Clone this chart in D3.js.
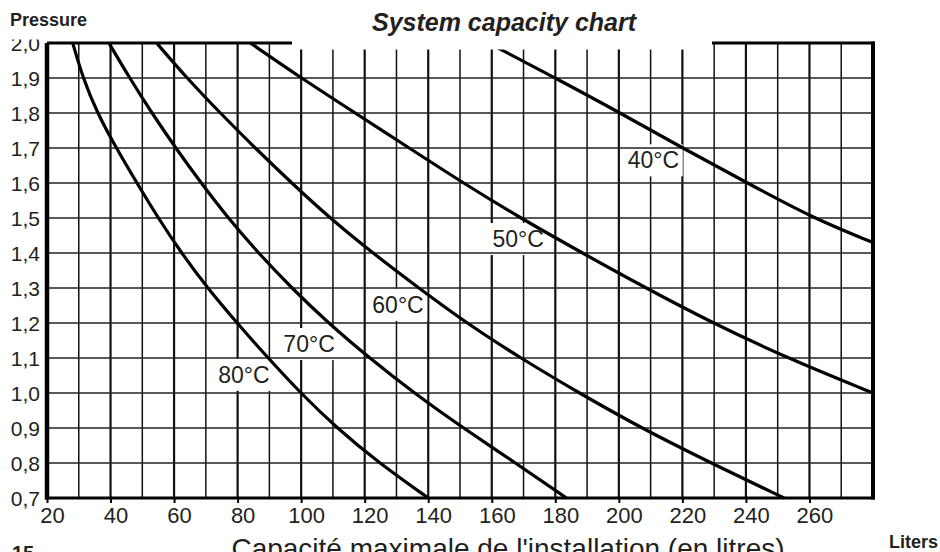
<!DOCTYPE html>
<html>
<head>
<meta charset="utf-8">
<script src="https://cdn.jsdelivr.net/npm/d3@7"></script>
<style>
  html, body { margin: 0; padding: 0; background: #fff; }
  svg { display: block; }
  text { font-family: "Liberation Sans", Arial, Helvetica, sans-serif; fill: #231f20; }
</style>
</head>
<body>
<svg id="chart" width="940" height="552"></svg>
<script>
// curve values: [litres, bar]
var curve40 = [[159, 2.0], [180, 1.9], [200.5, 1.8], [220, 1.7], [240.5, 1.6], [261, 1.5], [280, 1.43]];
var curve50 = [[84, 2.0], [100, 1.9], [117, 1.8], [134, 1.7], [151, 1.6], [169, 1.5], [188.5, 1.4], [208.5, 1.3], [229.5, 1.2], [253, 1.1], [280, 1.0]];
var curve60 = [[54.5, 2.0], [64, 1.9], [74.5, 1.8], [85.5, 1.7], [97, 1.6], [109, 1.5], [122.5, 1.4], [137, 1.3], [152, 1.2], [169, 1.1], [187.5, 1.0], [207, 0.9], [229, 0.8], [252, 0.7]];
var curve70 = [[39.5, 2.0], [46, 1.9], [53, 1.8], [60.5, 1.7], [68.5, 1.6], [77, 1.5], [86.5, 1.4], [97, 1.3], [108.5, 1.2], [121.5, 1.1], [135.5, 1.0], [151, 0.9], [167.5, 0.8], [183.5, 0.7]];
var curve80 = [[28.1, 2.0], [31.3, 1.9], [35.8, 1.8], [41.8, 1.7], [48.3, 1.6], [55, 1.5], [62.3, 1.4], [70.5, 1.3], [79.8, 1.2], [89.6, 1.1], [99.8, 1.0], [111.2, 0.9], [124.5, 0.8], [140, 0.7]];

var tempLabels = ["40°C", "50°C", "60°C", "70°C", "80°C"];
var labelLitres = [202.8, 160.2, 122.4, 94.4, 73.9];
var labelBar = [1.642, 1.417, 1.229, 1.117, 1.029];

var xTicks = [20, 40, 60, 80, 100, 120, 140, 160, 180, 200, 220, 240, 260];
var yTicks = [0.7, 0.8, 0.9, 1.0, 1.1, 1.2, 1.3, 1.4, 1.5, 1.6, 1.7, 1.8, 1.9, 2.0];
var xGrid = [30, 40, 50, 60, 70, 80, 90, 100, 110, 120, 130, 140, 150, 160, 170, 180, 190, 200, 210, 220, 230, 240, 250, 260, 270];
var yGrid = [0.8, 0.9, 1.0, 1.1, 1.2, 1.3, 1.4, 1.5, 1.6, 1.7, 1.8, 1.9];

var svg = d3.select("#chart");

var x = d3.scaleLinear().domain([20, 280]).range([47, 873]);
var y = d3.scaleLinear().domain([0.7, 2.0]).range([498, 43]);

/* vertical grid */
svg.append("g").selectAll("line")
    .data(xGrid)
    .enter()
    .append("line")
    .attr("x1", function(d) { return x(d); })
    .attr("x2", function(d) { return x(d); })
    .attr("y1", y(2.0))
    .attr("y2", y(0.7))
    .attr("stroke", "#111")
    .attr("stroke-width", function(d) { return d % 20 === 0 ? 2.2 : 1.5; });

/* white boxes behind the curve labels */
var labels = tempLabels.map(function(t, i) {
    return { text: t, lx: labelLitres[i], lb: labelBar[i] };
});

svg.append("g").selectAll("rect")
    .data(labels)
    .enter()
    .append("rect")
    .attr("x", function(d) { return x(d.lx) - 3; })
    .attr("y", function(d) { return y(d.lb) - 24; })
    .attr("width", 58)
    .attr("height", 32)
    .attr("fill", "#fff");

/* horizontal grid */
svg.append("g").selectAll("line")
    .data(yGrid)
    .enter()
    .append("line")
    .attr("x1", x(20))
    .attr("x2", x(280))
    .attr("y1", function(d) { return y(d); })
    .attr("y2", function(d) { return y(d); })
    .attr("stroke", "#222")
    .attr("stroke-width", 1.4);

/* curves */
var line = d3.line()
    .x(function(d) { return x(d[0]); })
    .y(function(d) { return y(d[1]); })
    .curve(d3.curveBasis);

svg.append("g").selectAll("path")
    .data([curve40, curve50, curve60, curve70, curve80])
    .enter()
    .append("path")
    .attr("d", line)
    .attr("fill", "none")
    .attr("stroke", "#000")
    .attr("stroke-width", 3.2);

/* gap in the frame for the title */
svg.append("rect")
    .attr("x", 292).attr("y", 0)
    .attr("width", 420).attr("height", 49.5)
    .attr("fill", "#fff");

/* frame */
var frame = svg.append("g").attr("stroke", "#000").attr("fill", "none");
frame.append("line").attr("x1", x(20)).attr("x2", x(20)).attr("y1", y(2.0)).attr("y2", y(0.7) + 1.5).attr("stroke-width", 4.5);
frame.append("line").attr("x1", x(20) - 2).attr("x2", x(280) + 2).attr("y1", y(0.7)).attr("y2", y(0.7)).attr("stroke-width", 3);
frame.append("line").attr("x1", x(280)).attr("x2", x(280)).attr("y1", y(2.0) - 1.5).attr("y2", y(0.7) + 1.5).attr("stroke-width", 4);
frame.append("line").attr("x1", x(20)).attr("x2", 292).attr("y1", y(2.0)).attr("y2", y(2.0)).attr("stroke-width", 3);
frame.append("line").attr("x1", 712).attr("x2", x(280) + 2).attr("y1", y(2.0)).attr("y2", y(2.0)).attr("stroke-width", 3);

/* axes */
var xAxis = svg.append("g")
    .attr("transform", "translate(0," + y(0.7) + ")")
    .call(d3.axisBottom(x).tickValues(xTicks).tickSize(5).tickFormat(d3.format("d")));
xAxis.select(".domain").remove();
xAxis.selectAll("line").attr("stroke", "#000").attr("stroke-width", 2);
xAxis.selectAll("text")
    .attr("y", 25).attr("dy", 0).attr("dx", 5)
    .attr("font-size", "22px")
    .attr("fill", "#231f20");

var yAxis = svg.append("g")
    .attr("transform", "translate(" + x(20) + ",0)")
    .call(d3.axisLeft(y).tickValues(yTicks).tickSize(0)
        .tickFormat(function(d) { return d3.format(".1f")(d).replace(".", ","); }));
yAxis.select(".domain").remove();
yAxis.selectAll("text")
    .attr("x", -7).attr("dy", "0.36em")
    .attr("font-size", "21px")
    .attr("fill", "#231f20");

/* cut top of the "2,0" label like the scan */
svg.append("rect").attr("x", 0).attr("y", 0).attr("width", 45).attr("height", 39.5).attr("fill", "#fff");

/* curve labels */
svg.append("g").selectAll("text")
    .data(labels)
    .enter()
    .append("text")
    .attr("x", function(d) { return x(d.lx); })
    .attr("y", function(d) { return y(d.lb); })
    .attr("font-size", "23px")
    .text(function(d) { return d.text; });

/* texts */
svg.append("text")
    .attr("x", 10).attr("y", 26)
    .attr("font-size", "18px").attr("font-weight", "bold")
    .text("Pressure");

svg.append("text")
    .attr("x", 504).attr("y", 31)
    .attr("text-anchor", "middle")
    .attr("font-size", "25px").attr("font-weight", "bold").attr("font-style", "italic")
    .text("System capacity chart");

svg.append("text")
    .attr("x", 508).attr("y", 558)
    .attr("text-anchor", "middle")
    .attr("font-size", "28px")
    .text("Capacité maximale de l'installation (en litres)");

svg.append("text")
    .attr("x", 889).attr("y", 548)
    .attr("font-size", "18px").attr("font-weight", "bold")
    .text("Liters");

svg.append("text")
    .attr("x", 12).attr("y", 560)
    .attr("font-size", "20px").attr("font-weight", "bold")
    .text("15");
</script>
</body>
</html>
